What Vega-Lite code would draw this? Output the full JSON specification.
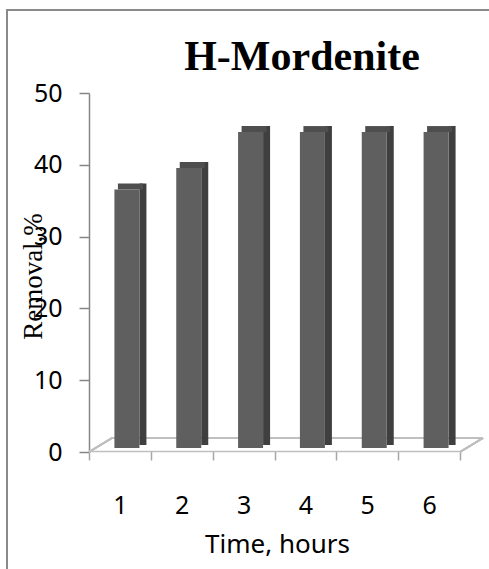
{
  "$schema": "https://vega.github.io/schema/vega-lite/v6.json",
  "autosize": "none",
  "padding": {"left": 7, "top": 10, "right": 0, "bottom": 0},
  "width": 484,
  "height": 561,
  "background": "#ffffff",
  "config": {
    "view": {"stroke": "#8a8a8a", "strokeWidth": 2},
    "axis": {"grid": false}
  },
  "title": {
    "text": "H-Mordenite",
    "font": "Liberation Serif",
    "fontSize": 42,
    "fontWeight": "bold",
    "color": "#000000",
    "frame": "group",
    "anchor": "middle",
    "baseline": "alphabetic",
    "offset": 0,
    "dx": 53,
    "dy": 102
  },
  "data": {
    "values": [
      {"t": "1", "v": 36},
      {"t": "2", "v": 39},
      {"t": "3", "v": 44},
      {"t": "4", "v": 44},
      {"t": "5", "v": 44},
      {"t": "6", "v": 44}
    ]
  },
  "resolve": {"scale": {"x": "independent"}},
  "layer": [
    {
      "description": "3-D floor outline behind the columns",
      "encoding": {
        "x": {"datum": 0.5, "type": "quantitative", "scale": {"domain": [0.5, 6.5], "range": [82, 453], "nice": false, "zero": false}, "axis": null},
        "y": {"datum": 0, "type": "quantitative"}
      },
      "layer": [
        {
          "mark": {"type": "rule", "color": "#bfbfbf", "strokeWidth": 1.5, "xOffset": 23, "x2Offset": 23, "yOffset": -14},
          "encoding": {"x2": {"datum": 6.5}}
        },
        {
          "mark": {"type": "rule", "color": "#bfbfbf", "strokeWidth": 1.5, "x2Offset": 23, "y2Offset": -14},
          "encoding": {"x2": {"datum": 0.5}, "y2": {"datum": 0}}
        },
        {
          "mark": {"type": "rule", "color": "#bfbfbf", "strokeWidth": 1.5, "x2Offset": 23, "y2Offset": -14},
          "encoding": {"x": {"datum": 6.5, "type": "quantitative"}, "x2": {"datum": 6.5}, "y2": {"datum": 0}}
        }
      ]
    },
    {
      "description": "columns: side face, top face, front face",
      "encoding": {
        "x": {
          "field": "t",
          "type": "ordinal",
          "scale": {"range": [82, 453], "paddingInner": 0, "paddingOuter": 0},
          "axis": {
            "title": "Time, hours",
            "offset": -120,
            "tickBand": "extent",
            "labelAngle": 0,
            "domainColor": "#bfbfbf",
            "domainWidth": 1.5,
            "tickColor": "#a6a6a6",
            "tickWidth": 1.5,
            "tickSize": 9,
            "labelPadding": 33,
            "labelFont": "Noto Sans",
            "labelFontSize": 25,
            "labelColor": "#000000",
            "titleFont": "Noto Sans",
            "titleFontSize": 26,
            "titleFontWeight": "normal",
            "titleColor": "#000000",
            "titleX": 270,
            "titleY": 101,
            "titleAlign": "center",
            "titleBaseline": "alphabetic"
          }
        },
        "y": {
          "field": "v",
          "type": "quantitative",
          "scale": {"domain": [0, 50], "range": [442, 83], "nice": false},
          "axis": {
            "title": "Removal,%",
            "offset": -82,
            "values": [0, 10, 20, 30, 40, 50],
            "domainColor": "#868686",
            "domainWidth": 1.5,
            "tickColor": "#868686",
            "tickWidth": 1.5,
            "tickSize": 10,
            "labelPadding": 17,
            "labelFont": "Noto Sans",
            "labelFontSize": 25,
            "labelColor": "#000000",
            "titleFont": "Liberation Serif",
            "titleFontSize": 27,
            "titleFontWeight": "normal",
            "titleColor": "#000000",
            "titleAngle": 270,
            "titleX": -48,
            "titleY": 266,
            "titleAlign": "center",
            "titleBaseline": "alphabetic"
          }
        }
      },
      "layer": [
        {
          "mark": {"type": "bar", "size": 7, "xOffset": 23, "yOffset": -10, "y2Offset": -7, "color": "#3f3f3f"},
          "encoding": {"y2": {"datum": 0}}
        },
        {
          "mark": {"type": "bar", "size": 25, "xOffset": 10.5, "yOffset": -10, "y2Offset": -4, "color": "#4e4e4e"},
          "encoding": {"y2": {"field": "v"}}
        },
        {
          "mark": {"type": "bar", "size": 25, "xOffset": 7, "yOffset": -4, "y2Offset": -4, "color": "#5f5f5f"},
          "encoding": {"y2": {"datum": 0}}
        }
      ]
    }
  ]
}
